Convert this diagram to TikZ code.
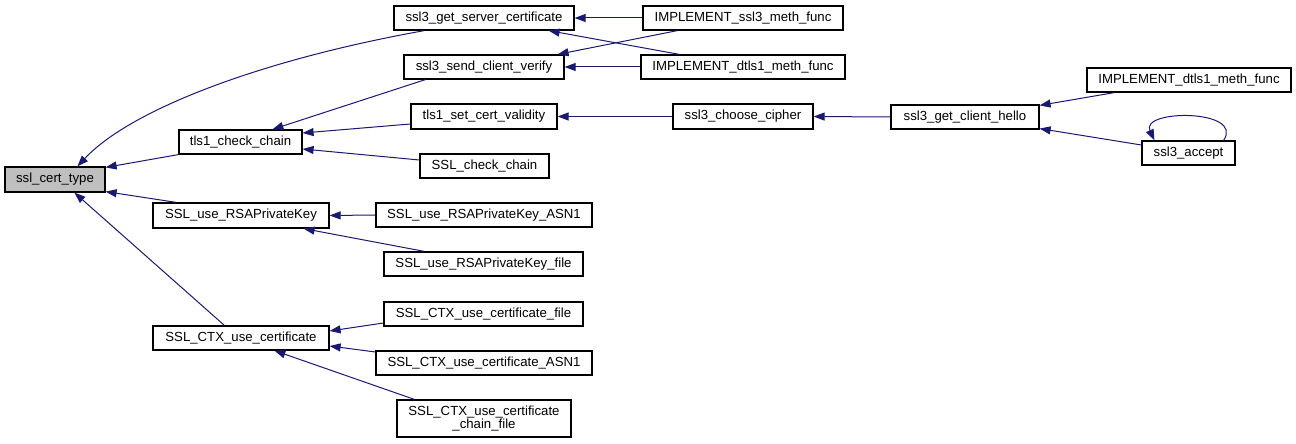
\documentclass[tikz,border=0pt]{standalone}
\usepackage{fontspec}
\setmainfont{Liberation Sans}
\usetikzlibrary{arrows.meta}
\definecolor{edgeblue}{RGB}{25,25,112}
\definecolor{rootgrey}{RGB}{191,191,191}
\tikzset{
  fn/.style={draw=black, line width=1.2pt, fill=white, inner sep=0pt, minimum height=24pt,
    font=\fontsize{13.2}{15}\selectfont, align=center},
  rootfn/.style={fn, fill=rootgrey},
  edge/.style={draw=edgeblue, line width=1pt, -{Triangle[length=11pt,width=8pt]}, fill=none}
}
\begin{document}
\begin{tikzpicture}[x=1pt,y=-1pt]
\useasboundingbox (0,0) rectangle (1296,444);
% column 0
\node[rootfn, minimum width=100pt, minimum height=25pt] (cert) at (55,179.5) {ssl\_cert\_type};
% column 1
\node[fn, minimum width=123pt] (tlscc) at (240.5,142) {tls1\_check\_chain};
\node[fn, minimum width=176pt, minimum height=25pt] (rsapk) at (241,215.5) {SSL\_use\_RSAPrivateKey};
\node[fn, minimum width=176pt] (ctxuc) at (241,338) {SSL\_CTX\_use\_certificate};
% column 2
\node[fn, minimum width=180pt] (gsc) at (484,18) {ssl3\_get\_server\_certificate};
\node[fn, minimum width=160pt] (scv) at (484,67) {ssl3\_send\_client\_verify};
\node[fn, minimum width=146pt, minimum height=25pt] (tscv) at (484,116.5) {tls1\_set\_cert\_validity};
\node[fn, minimum width=129pt] (scc) at (484.5,166) {SSL\_check\_chain};
\node[fn, minimum width=216pt] (rsaasn) at (484,215) {SSL\_use\_RSAPrivateKey\_ASN1};
\node[fn, minimum width=199pt] (rsafile) at (483.5,264) {SSL\_use\_RSAPrivateKey\_file};
\node[fn, minimum width=199pt] (ctxfile) at (483.5,314) {SSL\_CTX\_use\_certificate\_file};
\node[fn, minimum width=216pt] (ctxasn) at (484,363) {SSL\_CTX\_use\_certificate\_ASN1};
\node[fn, minimum width=174pt, minimum height=37pt] (chain) at (484,418.5) {SSL\_CTX\_use\_certificate\\[-2pt]\_chain\_file};
% column 3
\node[fn, minimum width=200pt] (impssl) at (743,18) {IMPLEMENT\_ssl3\_meth\_func};
\node[fn, minimum width=204pt] (impdtls) at (743,67) {IMPLEMENT\_dtls1\_meth\_func};
\node[fn, minimum width=140pt, minimum height=25pt] (choose) at (743,116.5) {ssl3\_choose\_cipher};
% column 4
\node[fn, minimum width=148pt] (hello) at (965,117) {ssl3\_get\_client\_hello};
% column 5
\node[fn, minimum width=204pt] (impdtlsb) at (1189,80) {IMPLEMENT\_dtls1\_meth\_func};
\node[fn, minimum width=93pt] (accept) at (1188.5,153) {ssl3\_accept};

% edges into ssl_cert_type
\draw[edge] ([xshift=31pt]gsc.south west) .. controls (260,60) and (130,110) .. ([xshift=73pt]cert.north west);
\draw[edge] (tlscc.south west) -- ([yshift=-1pt]cert.north east);
\draw[edge] ([xshift=24pt]rsapk.north west) -- ([yshift=1pt]cert.south east);
\draw[edge] ([xshift=72pt]ctxuc.north west) -- ([xshift=70pt]cert.south west);
% edges into tls1_check_chain
\draw[edge] ([xshift=22pt]scv.south west) -- ([xshift=94pt]tlscc.north west);
\draw[edge] ([yshift=-7.5pt]tscv.west) -- ([yshift=9pt]tlscc.east);
\draw[edge] ([yshift=6pt]scc.west) -- ([yshift=-7pt]tlscc.east);
% edges into ssl3_get_server_certificate / ssl3_send_client_verify
\draw[edge] (impssl.west) -- (gsc.east);
\draw[edge] ([xshift=39pt]impdtls.north west) -- ([xshift=-26pt]gsc.south east);
\draw[edge] ([xshift=35pt]impssl.south west) -- ([xshift=-7pt]scv.north east);
\draw[edge] (impdtls.west) -- (scv.east);
% chain to client hello
\draw[edge] (choose.west) -- (tscv.east);
\draw[edge] (hello.west) -- (choose.east);
\draw[edge] ([xshift=28pt]impdtlsb.south west) -- ([yshift=-1pt]hello.north east);
\draw[edge] ([yshift=8pt]accept.west) -- ([yshift=1pt]hello.south east);
\draw[edge] ([xshift=-12pt]accept.north east) .. controls (1245,109) and (1140,109) .. ([xshift=13pt]accept.north west);
% RSA private key
\draw[edge] (rsaasn.west) -- (rsapk.east);
\draw[edge] ([xshift=41pt]rsafile.north west) -- ([xshift=-26pt]rsapk.south east);
% CTX use certificate
\draw[edge] ([yshift=-9pt]ctxfile.west) -- ([yshift=7pt]ctxuc.east);
\draw[edge] ([yshift=11pt]ctxasn.west) -- ([yshift=-8pt]ctxuc.east);
\draw[edge] ([xshift=18pt]chain.north west) -- ([xshift=122pt]ctxuc.south west);
\end{tikzpicture}
\end{document}
